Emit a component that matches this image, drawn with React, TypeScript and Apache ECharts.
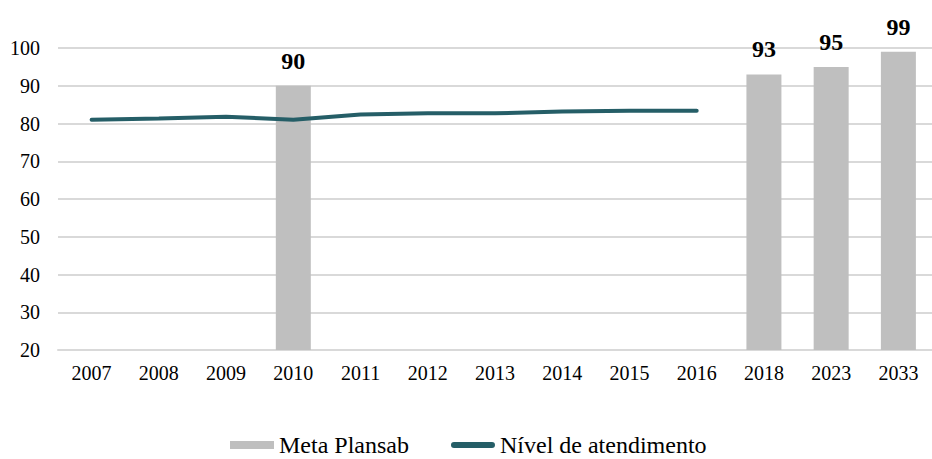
import React, { useEffect, useRef } from "react";
import * as echarts from "echarts";

const categories = ["2007", "2008", "2009", "2010", "2011", "2012", "2013", "2014", "2015", "2016", "2018", "2023", "2033"];
const metaPlansab = [null, null, null, 90, null, null, null, null, null, null, 93, 95, 99];
const nivelAtendimento = [81.0, 81.3, 81.8, 81.0, 82.4, 82.7, 82.7, 83.2, 83.4, 83.4, null, null, null];

export default function App() {
  const ref = useRef<HTMLDivElement>(null);
  useEffect(() => {
    const chart = echarts.init(ref.current!, null, { renderer: "svg" });
    const font = "Liberation Serif";
    chart.setOption({
      animation: false,
      textStyle: { fontFamily: font },
      grid: { left: 58, right: 0, top: 48, bottom: 109, containLabel: false },
      legend: {
        top: 433,
        left: 230,
        padding: 0,
        itemWidth: 44,
        itemHeight: 8,
        itemGap: 42,
        textStyle: { fontFamily: font, fontSize: 24, lineHeight: 22, fontWeight: "normal", color: "#000" },
        data: [
          { name: "Meta Plansab", icon: "rect" },
          { name: "Nível de atendimento", icon: "path://M3,0 L41,0 A3,3 0 0 1 41,6 L3,6 A3,3 0 0 1 3,0 Z" },
        ],
      },
      xAxis: {
        type: "category",
        data: categories,
        axisLine: { show: true, lineStyle: { color: "#d9d9d9", width: 2 } },
        axisTick: { show: false },
        axisLabel: { color: "#000", fontSize: 20, fontWeight: "normal", fontFamily: font, margin: 13 },
      },
      yAxis: {
        type: "value",
        min: 20,
        max: 100,
        interval: 10,
        axisLine: { show: false },
        axisTick: { show: false },
        splitLine: { lineStyle: { color: "#d9d9d9", width: 2 } },
        axisLabel: { color: "#000", fontSize: 20, fontWeight: "normal", fontFamily: font, margin: 18 },
      },
      series: [
        {
          name: "Meta Plansab",
          type: "bar",
          data: metaPlansab,
          barWidth: 35,
          itemStyle: { color: "#bfbfbf" },
          label: {
            show: true,
            position: "top",
            distance: 13,
            color: "#000",
            fontWeight: "bold",
            fontSize: 24,
            fontFamily: font,
          },
        },
        {
          name: "Nível de atendimento",
          type: "line",
          data: nivelAtendimento,
          symbol: "none",
          lineStyle: { color: "#255e67", width: 4, cap: "round" },
          itemStyle: { color: "#255e67" },
        },
      ],
    });
    return () => chart.dispose();
  }, []);
  return <div ref={ref} style={{ width: 932, height: 459, position: "absolute", left: 0, top: 0 }} />;
}
